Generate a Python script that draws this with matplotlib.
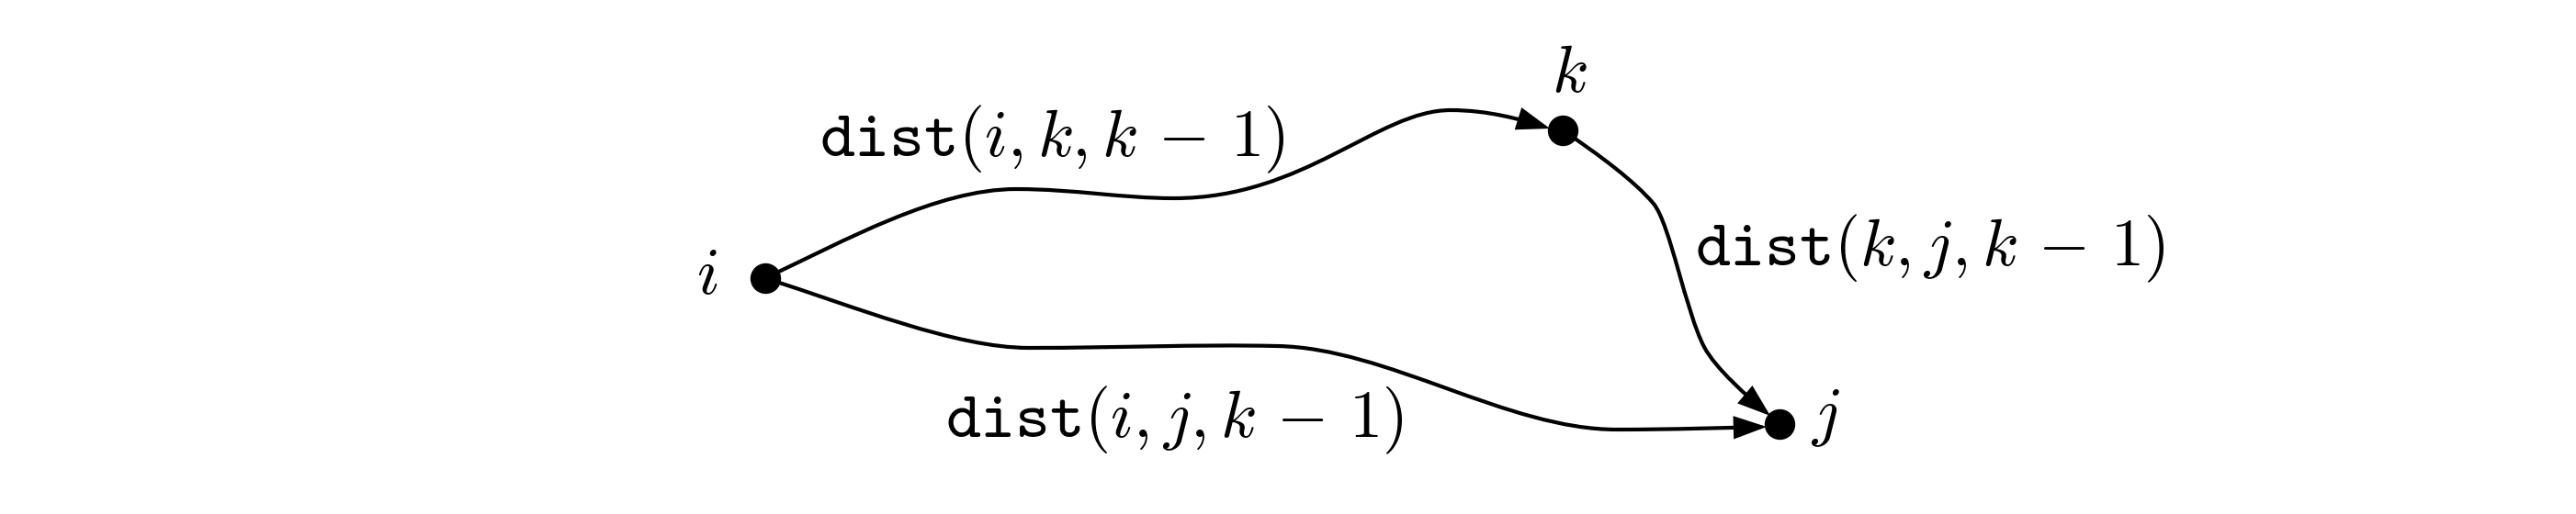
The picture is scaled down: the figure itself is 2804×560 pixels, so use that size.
import matplotlib
matplotlib.use("Agg")
import matplotlib.pyplot as plt
from matplotlib.path import Path
from matplotlib.patches import FancyArrowPatch

plt.rcParams['mathtext.fontset'] = 'cm'

# nodes of the graph (pixel coords, y down)
node_names = ['i', 'k', 'j']
node_x = [833, 1701, 1937]
node_y = [303, 142, 462]

# where the node names sit (x centre, baseline)
name_x = [770, 1708, 1987]
name_y = [320, 100, 472]

# edge labels
edge_labels = [r'$\mathtt{dist}(i,k,k\,-\,1)$',
               r'$\mathtt{dist}(i,j,k\,-\,1)$',
               r'$\mathtt{dist}(k,j,k\,-\,1)$']
label_x = [1145, 1278, 2101]
label_y = [170, 476, 289]

# curved edges as chains of cubic bezier pieces: start, then (c1, c2, end) ...
edge_ik = [(833, 303),
           (920, 262), (1020, 206), (1106, 206),
           (1170, 206), (1220, 216), (1278, 216),
           (1420, 216), (1500, 120), (1579, 120),
           (1620, 120), (1655, 130), (1687, 140)]
edge_ij = [(833, 303),
           (930, 334), (1040, 379), (1120, 379),
           (1220, 379), (1300, 375), (1390, 377),
           (1510, 379), (1640, 468), (1760, 468),
           (1820, 468), (1880, 466), (1923, 465)]
edge_kj = [(1701, 142),
           (1740, 168), (1780, 198), (1800, 222),
           (1818, 244), (1835, 340), (1855, 378),
           (1867, 401), (1902, 432), (1927, 453)]


def bez_path(pts):
    codes = [Path.MOVETO] + [Path.CURVE4] * (len(pts) - 1)
    return Path(pts, codes)


fig = plt.figure(figsize=(28.04, 5.6), dpi=100)
ax = fig.add_axes([0, 0, 1, 1])
ax.set_xlim(0, 2804)
ax.set_ylim(560, 0)
ax.axis('off')

for pts in [edge_ik, edge_ij, edge_kj]:
    arr = FancyArrowPatch(path=bez_path(pts),
                          arrowstyle='-|>,head_length=20,head_width=7',
                          mutation_scale=1, color='black', lw=3.0,
                          joinstyle='miter', zorder=2)
    ax.add_patch(arr)

ax.plot(node_x, node_y, 'o', color='black', markersize=23, zorder=3)

for n, x, y in zip(node_names, name_x, name_y):
    ax.text(x, y, '$' + n + '$', fontsize=52, ha='center', va='baseline')

for s, x, y in zip(edge_labels, label_x, label_y):
    ax.text(x, y, s, fontsize=52, ha='center', va='baseline')

fig.savefig('out.png', dpi=100, facecolor='white')
